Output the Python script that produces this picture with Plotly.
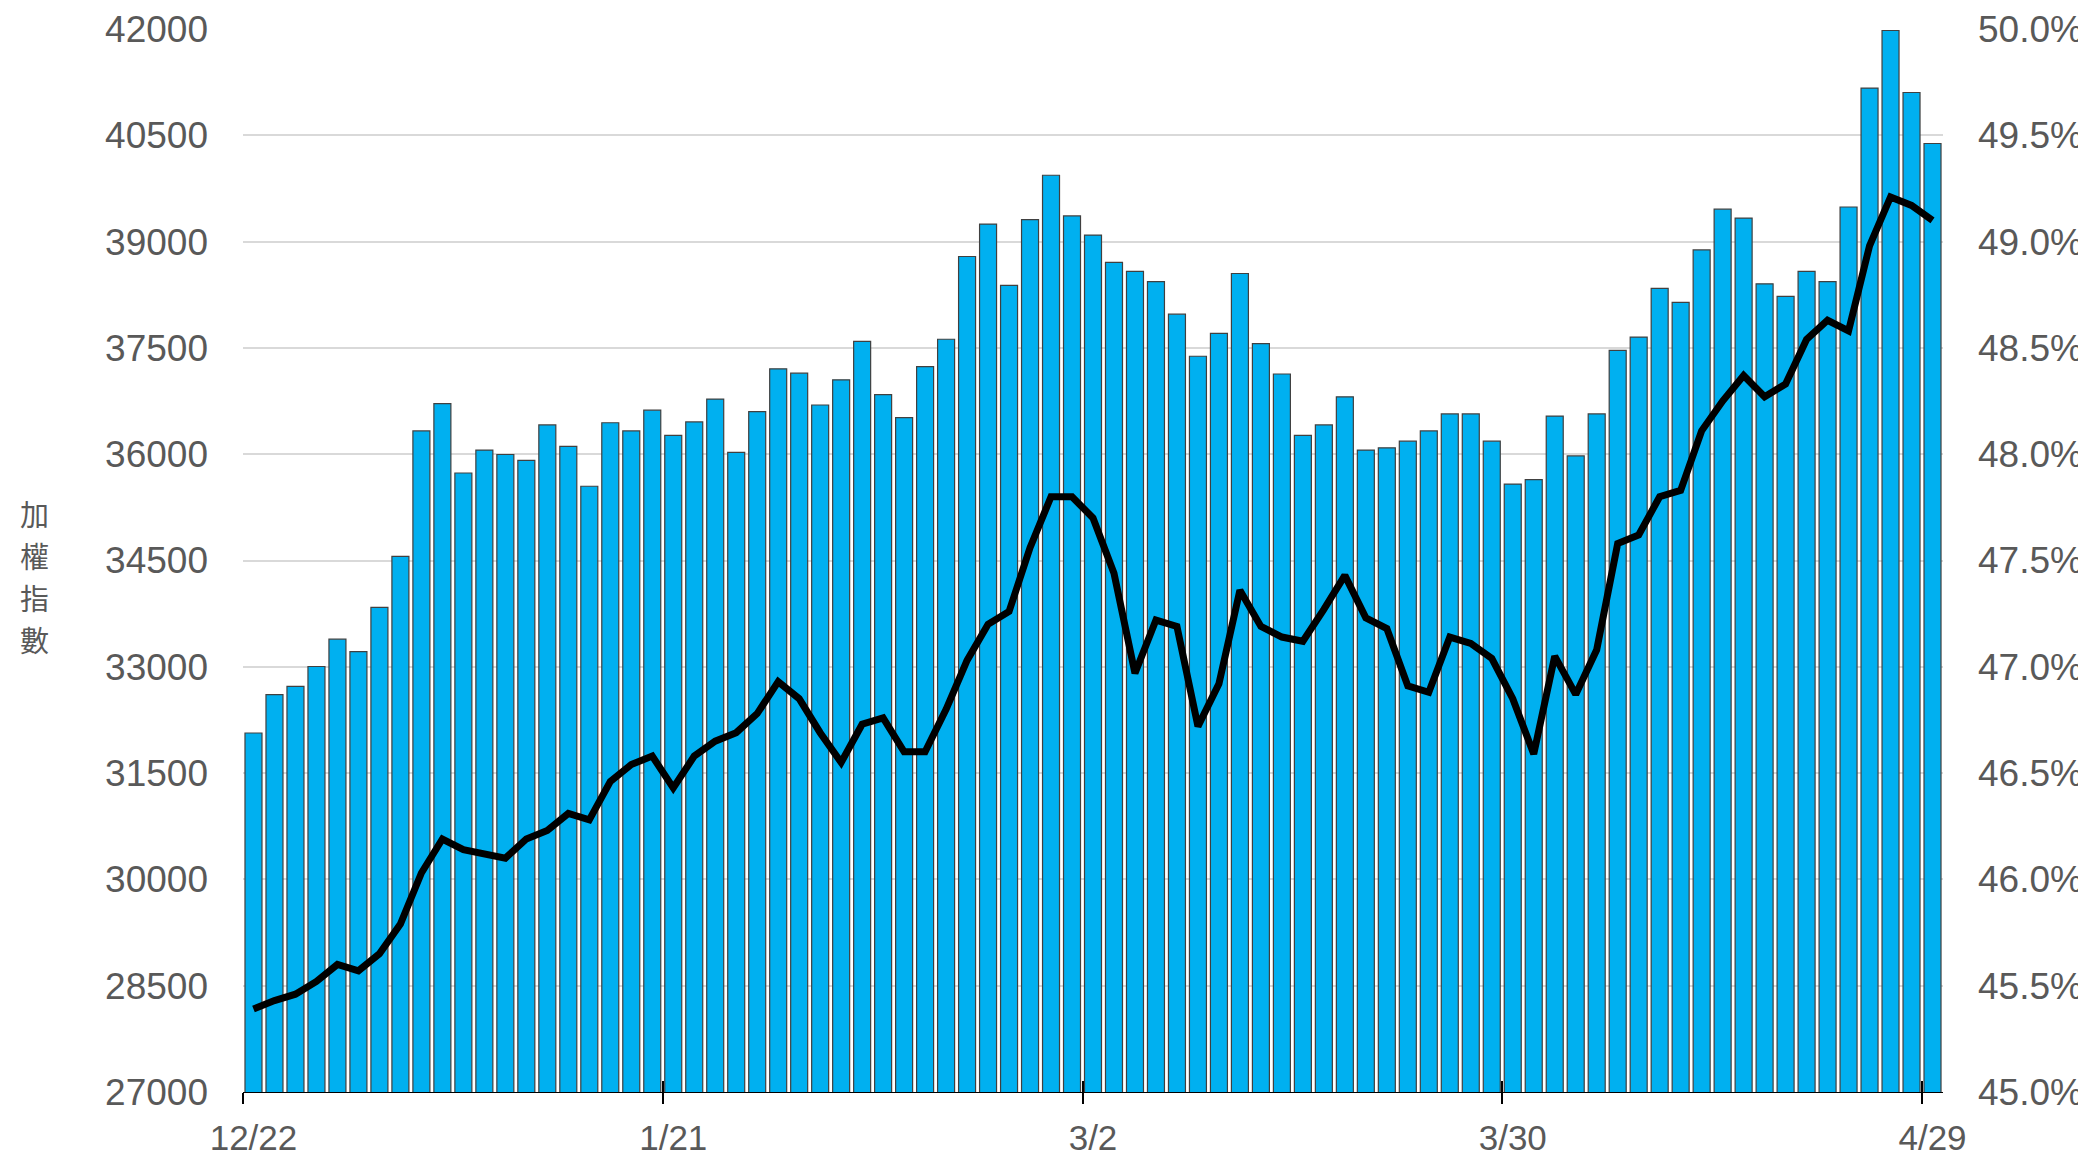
import plotly.graph_objects as go

# Trading days (categories)
dates = [
    "12/22", "12/23", "12/24", "12/26", "12/29", "12/30", "12/31",
    "1/2", "1/5", "1/6", "1/7", "1/8", "1/9", "1/12", "1/13", "1/14", "1/15", "1/16",
    "1/19", "1/20", "1/21", "1/22", "1/23", "1/26", "1/27", "1/28", "1/29", "1/30",
    "2/2", "2/3", "2/4", "2/5", "2/6", "2/9", "2/10", "2/11",
    "2/23", "2/24", "2/25", "2/26",
    "3/2", "3/3", "3/4", "3/5", "3/6", "3/9", "3/10", "3/11", "3/12", "3/13",
    "3/16", "3/17", "3/18", "3/19", "3/20", "3/23", "3/24", "3/25", "3/26", "3/27",
    "3/30", "3/31", "4/1", "4/2", "4/7", "4/8", "4/9", "4/10",
    "4/13", "4/14", "4/15", "4/16", "4/17", "4/20", "4/21", "4/22", "4/23", "4/24",
    "4/27", "4/28", "4/29",
]

# 加權指數 (left axis)
index_vals = [
    32066, 32608, 32723, 33004, 33390, 33213, 33838, 34557, 36329, 36715,
    35735, 36058, 35996, 35912, 36413, 36111, 35548, 36444, 36329, 36621,
    36267, 36455, 36778, 36027, 36601, 37205, 37143, 36694, 37049, 37591,
    36840, 36517, 37236, 37622, 38790, 39248, 38383, 39311, 39936, 39363,
    39092, 38706, 38581, 38435, 37976, 37382, 37705, 38550, 37559, 37132,
    36267, 36413, 36809, 36058, 36090, 36184, 36329, 36569, 36569, 36184,
    35579, 35641, 36538, 35975, 36569, 37466, 37653, 38341, 38143, 38883,
    39457, 39332, 38404, 38227, 38581, 38435, 39488, 41166, 41979, 41104,
    40384,
]

# Percentage series (right axis, %)
pct_vals = [
    45.39, 45.43, 45.46, 45.52, 45.60, 45.57, 45.65, 45.79, 46.03, 46.19,
    46.14, 46.12, 46.10, 46.19, 46.23, 46.31, 46.28, 46.46, 46.54, 46.58,
    46.43, 46.58, 46.65, 46.69, 46.78, 46.93, 46.85, 46.69, 46.55, 46.73,
    46.76, 46.60, 46.60, 46.80, 47.03, 47.20, 47.26, 47.56, 47.80, 47.80,
    47.70, 47.44, 46.97, 47.22, 47.19, 46.72, 46.92, 47.36, 47.19, 47.14,
    47.12, 47.27, 47.43, 47.23, 47.18, 46.91, 46.88, 47.14, 47.11, 47.04,
    46.85, 46.59, 47.05, 46.87, 47.08, 47.58, 47.62, 47.80, 47.83, 48.11,
    48.25, 48.37, 48.27, 48.33, 48.54, 48.63, 48.58, 48.98, 49.21, 49.17,
    49.10,
]

tick_labels = ["12/22", "1/21", "3/2", "3/30", "4/29"]
y_title = "加權指數"

GRAY = "#595959"
Y_TICK_FONT = dict(family="Liberation Sans, Arial, sans-serif", size=37, color=GRAY)
X_TICK_FONT = dict(family="Liberation Sans, Arial, sans-serif", size=35, color=GRAY)

n = len(dates)
tick_pos = [dates.index(t) for t in tick_labels]
boundary_ticks = [p - 0.5 for p in tick_pos]

fig = go.Figure()
fig.add_trace(go.Bar(
    x=dates, y=index_vals, name="加權指數",
    marker=dict(color="#00B0F0", line=dict(color="#404040", width=1.2)),
    yaxis="y",
))
fig.add_trace(go.Scatter(
    x=dates, y=pct_vals, mode="lines", name="比例",
    line=dict(color="#000000", width=7),
    yaxis="y2",
))
# invisible helper traces for the boundary tick axes
fig.add_trace(go.Scatter(x=[], y=[], xaxis="x2", yaxis="y", showlegend=False, hoverinfo="skip"))
fig.add_trace(go.Scatter(x=[], y=[], xaxis="x3", yaxis="y", showlegend=False, hoverinfo="skip"))

boundary_axis = dict(
    overlaying="x", anchor="y", side="bottom",
    range=[-0.5, n - 0.5],
    tickmode="array", tickvals=boundary_ticks,
    ticklen=11, tickwidth=1.5, tickcolor="#000000",
    showticklabels=False, showgrid=False, zeroline=False, showline=False,
    automargin=False,
)

fig.update_layout(
    width=2086, height=1158,
    margin=dict(l=235, r=151, t=21, b=74),
    paper_bgcolor="white", plot_bgcolor="white",
    showlegend=False,
    bargap=0.19,
    xaxis=dict(
        type="category",
        range=[-0.5, n - 0.5],
        tickmode="array", tickvals=tick_labels, ticktext=tick_labels,
        tickangle=0,
        ticks="",
        showline=True, linecolor="#000000", linewidth=1.3,
        showgrid=False, zeroline=False,
        tickfont=X_TICK_FONT,
        ticklabelstandoff=15,
        automargin=False,
    ),
    xaxis2=dict(boundary_axis, ticks="outside"),
    xaxis3=dict(boundary_axis, ticks="inside"),
    yaxis=dict(
        range=[27000, 42000], tick0=27000, dtick=1500,
        tickformat="d",
        showgrid=True, gridcolor="#D9D9D9", gridwidth=2,
        zeroline=False, showline=False, ticks="",
        tickfont=Y_TICK_FONT,
        ticklabelstandoff=34,
        automargin=False,
    ),
    yaxis2=dict(
        overlaying="y", side="right", anchor="x",
        range=[45, 50], tick0=45, dtick=0.5,
        tickformat=".1f", ticksuffix="%",
        showgrid=False, zeroline=False, showline=False, ticks="",
        tickfont=Y_TICK_FONT,
        ticklabelstandoff=34,
        automargin=False,
    ),
)

# stacked vertical y-axis title, one character per line
shifts = [47.5, 5.5, -36.5, -78.5]
for ch, s in zip(y_title, shifts):
    fig.add_annotation(
        text=ch, xref="paper", yref="paper",
        x=-0.1229, y=0.5, yshift=s,
        xanchor="center", yanchor="middle", showarrow=False,
        font=dict(family="Noto Sans CJK TC, sans-serif", size=29, color=GRAY),
    )

fig.write_html("out.html")
